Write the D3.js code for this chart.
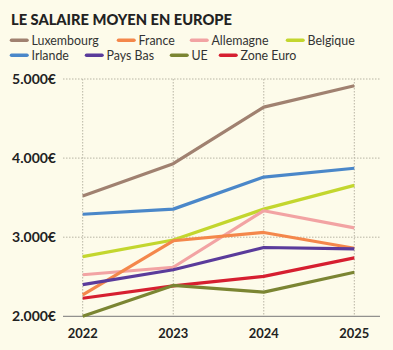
<!DOCTYPE html>
<html><head><meta charset="utf-8">
<script src="https://cdn.jsdelivr.net/npm/d3@7"></script>
<style>
html,body{margin:0;padding:0;background:#fdfbea;}
svg{display:block;}
text{font-family:Lato,"Open Sans",sans-serif;fill:#222;}
</style></head>
<body><svg id="c" width="393" height="350"></svg>
<script>
const years = [2022, 2023, 2024, 2025];
const yTicks = [2000, 3000, 4000, 5000];
const seriesNames = ["Luxembourg","France","Allemagne","Belgique","Irlande","Pays Bas","UE","Zone Euro"];
const colors = ["#a08170","#f4874b","#f2a3a3","#c3d62e","#4a87c9","#5a3b9b","#7b8532","#d61f30"];
const luxembourg = [3520, 3930, 4645, 4915];
const france     = [2270, 2955, 3060, 2860];
const allemagne  = [2525, 2620, 3335, 3118];
const belgique   = [2755, 2965, 3355, 3655];
const irlande    = [3290, 3355, 3760, 3872];
const paysBas    = [2400, 2588, 2870, 2852];
const ue         = [2000, 2390, 2305, 2557];
const zoneEuro   = [2228, 2384, 2505, 2738];
const values = [luxembourg, france, allemagne, belgique, irlande, paysBas, ue, zoneEuro];

const svg = d3.select("#c");
const x = d3.scaleLinear().domain([2022, 2025]).range([82.7, 354.3]);
const y = d3.scaleLinear().domain([2000, 5000]).range([316.3, 79]);
const fmt = v => d3.format(",")(v).replace(/,/g, ".") + "€";

function fitSize(sel, base, target, maxSize) {
  sel.style("font-size", base + "px");
  const w = sel.node().getComputedTextLength();
  const s = Math.min(maxSize, base * target / w);
  sel.style("font-size", s.toFixed(2) + "px");
  return s;
}

// title
const title = svg.append("text").attr("x", 11).attr("y", 25)
  .style("font-weight", 900).text("LE SALAIRE MOYEN EN EUROPE");
fitSize(title, 14, 221, 16);

// legend
const legendPos = [[11,40.3],[118,40.3],[191,40.3],[287,40.3],[11,55.3],[86,55.3],[171,55.3],[220,55.3]];
let legSize = null;
seriesNames.forEach((n, i) => {
  const [lx, ly] = legendPos[i];
  const g = svg.append("g").attr("transform", `translate(${lx},${ly})`);
  g.append("line").attr("x1", 0.5).attr("x2", 16).attr("y1", 0).attr("y2", 0)
    .attr("stroke", colors[i]).attr("stroke-width", 3.5).attr("stroke-linecap", "round");
  const t = g.append("text").attr("x", 20.5).attr("y", 0).attr("dy", "0.35em")
    .style("fill","#333").text(n);
  if (legSize === null) legSize = fitSize(t, 12, 71, 12.4);
  else t.style("font-size", legSize.toFixed(2) + "px");
});

// horizontal grid
const gx0 = 63, gx1 = 380;
svg.append("g").selectAll("line").data(yTicks.filter(t => t > 2000)).join("line")
  .attr("x1", gx0).attr("x2", gx1).attr("y1", d => y(d)).attr("y2", d => y(d))
  .attr("stroke", "#b8b5a4").attr("stroke-width", 1).attr("stroke-dasharray", "1.5,1.5");
// vertical grid
svg.append("g").selectAll("line").data(years).join("line")
  .attr("x1", d => x(d)).attr("x2", d => x(d)).attr("y1", y(5000)).attr("y2", y(2000))
  .attr("stroke", "#b8b5a4").attr("stroke-width", 1).attr("stroke-dasharray", "1.5,1.5");
// baseline
svg.append("line").attr("x1", gx0).attr("x2", gx1).attr("y1", y(2000)).attr("y2", y(2000))
  .attr("stroke", "#777").attr("stroke-width", 1);

// y labels
const yl = svg.append("g").selectAll("text").data(yTicks).join("text")
  .attr("x", 56).attr("y", d => y(d)).attr("dy", "0.36em").attr("text-anchor", "end")
  .style("font-weight", 700).text(fmt);
const ySize = fitSize(d3.select(yl.nodes()[0]), 12, 45, 14);
yl.style("font-size", ySize.toFixed(2) + "px");
// x labels
const xl = svg.append("g").selectAll("text").data(years).join("text")
  .attr("x", d => x(d)).attr("y", 338).attr("text-anchor", "middle")
  .style("font-weight", 700).text(d => d);
const xSize = fitSize(d3.select(xl.nodes()[0]), 12, 30, 14);
xl.style("font-size", xSize.toFixed(2) + "px");

// lines
const line = d3.line().x((d, i) => x(years[i])).y(d => y(d));
const order = [0, 4, 3, 2, 1, 5, 7, 6];
order.forEach(i => {
  svg.append("path").attr("d", line(values[i])).attr("fill", "none")
    .attr("stroke", colors[i]).attr("stroke-width", 3.2)
    .attr("stroke-linejoin", "round").attr("stroke-linecap", "butt");
});
</script></body></html>
